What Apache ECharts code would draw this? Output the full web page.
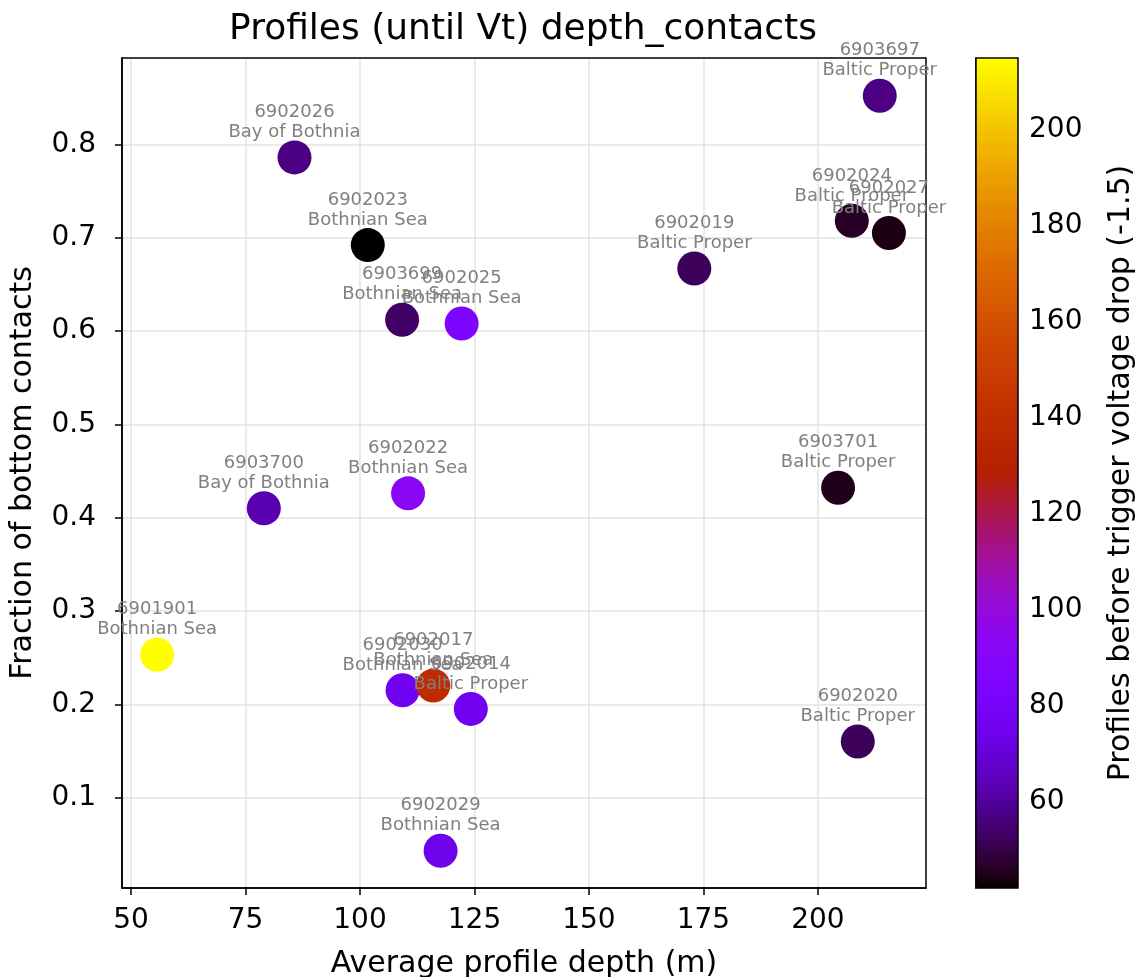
<!DOCTYPE html>
<html>
<head>
<meta charset="utf-8">
<script src="https://cdn.jsdelivr.net/npm/echarts@6/dist/echarts.min.js"></script>
<style>
  html, body { margin: 0; padding: 0; background: #fff; }
  #chart { width: 1136px; height: 977px; }
</style>
</head>
<body>
<div id="chart"></div>
<script>
// Float identifiers and their sea region
const floatIds = ['6901901', '6903700', '6902026', '6902023', '6903699', '6902025',
  '6902022', '6902030', '6902017', '6902014', '6902029', '6902019', '6903697',
  '6902024', '6902027', '6903701', '6902020'];
const regions = ['Bothnian Sea', 'Bay of Bothnia', 'Bay of Bothnia', 'Bothnian Sea',
  'Bothnian Sea', 'Bothnian Sea', 'Bothnian Sea', 'Bothnian Sea', 'Bothnian Sea',
  'Baltic Proper', 'Bothnian Sea', 'Baltic Proper', 'Baltic Proper', 'Baltic Proper',
  'Baltic Proper', 'Baltic Proper', 'Baltic Proper'];
// Average profile depth (m)
const avgDepth = [55.7, 79.0, 85.7, 101.7, 109.2, 122.2, 110.5, 109.3, 116.0, 124.2,
  117.6, 173.0, 213.5, 207.4, 215.5, 204.4, 208.7];
// Fraction of bottom contacts
const bottomFraction = [0.253, 0.410, 0.786, 0.692, 0.612, 0.608, 0.426, 0.215, 0.220,
  0.195, 0.043, 0.667, 0.852, 0.718, 0.705, 0.432, 0.160];
// Profiles before trigger voltage drop (-1.5)
const profilesBeforeDrop = [215, 63, 57, 42, 53, 84, 93, 76, 138, 76, 74, 52, 57, 46, 44, 45, 52];

const xTicks = [50, 75, 100, 125, 150, 175, 200];
const yTicks = [0.1, 0.2, 0.3, 0.4, 0.5, 0.6, 0.7, 0.8];
const cbTicks = [60, 80, 100, 120, 140, 160, 180, 200];
const cbMin = 42, cbMax = 215;

// gnuplot colour map: r = sqrt(t), g = t^3, b = sin(2*pi*t)
function gnuplotStops(n) {
  const out = [];
  for (let i = 0; i < n; i++) {
    const t = i / (n - 1);
    const r = Math.sqrt(t), g = t * t * t, b = Math.max(0, Math.sin(2 * Math.PI * t));
    const c = v => Math.round(Math.min(1, Math.max(0, v)) * 255);
    out.push('rgb(' + c(r) + ',' + c(g) + ',' + c(b) + ')');
  }
  return out;
}

const points = avgDepth.map((x, i) => [x, bottomFraction[i], profilesBeforeDrop[i], floatIds[i], regions[i]]);

const FONT = 'DejaVu Sans';
const chart = echarts.init(document.getElementById('chart'), null, { renderer: 'canvas' });

chart.setOption({
  backgroundColor: '#ffffff',
  animation: false,
  textStyle: { fontFamily: FONT },
  title: {
    text: 'Profiles (until Vt) depth_contacts',
    left: 518, textAlign: 'center', top: 7,
    textStyle: { fontFamily: FONT, fontSize: 36, fontWeight: 'normal', color: '#000' }
  },
  grid: [
    { left: 122, top: 58, width: 804, height: 830, outerBoundsMode: 'none', containLabel: false, show: true, borderColor: '#000', borderWidth: 1.5, backgroundColor: 'transparent', z: 3 },
    { left: 976, top: 58, width: 42, height: 830, outerBoundsMode: 'none', containLabel: false, show: true, borderColor: '#000', borderWidth: 1.5, backgroundColor: 'transparent', z: 5 }
  ],
  xAxis: [
    {
      type: 'value', gridIndex: 0, min: 48.03, max: 223.6,
      name: 'Average profile depth (m)', nameLocation: 'middle', nameGap: 61,
      nameTextStyle: { fontFamily: FONT, fontSize: 30, color: '#000' },
      axisLine: { show: true, onZero: false, lineStyle: { color: '#000', width: 1.5 } },
      axisTick: { show: true, inside: false, length: 7, customValues: xTicks, lineStyle: { color: '#000', width: 1.5 } },
      axisLabel: { customValues: xTicks, fontFamily: FONT, fontSize: 28, color: '#000', margin: 19, showMinLabel: true, showMaxLabel: true },
      splitLine: { show: true, lineStyle: { color: '#e3e3e3', width: 1.5 } }
    },
    { type: 'value', gridIndex: 1, show: false, min: 0, max: 1 }
  ],
  yAxis: [
    {
      type: 'value', gridIndex: 0, min: 0.0031, max: 0.8925,
      name: 'Fraction of bottom contacts', nameLocation: 'middle', nameGap: 84, nameRotate: 90,
      nameTextStyle: { fontFamily: FONT, fontSize: 30, color: '#000' },
      axisLine: { show: true, onZero: false, lineStyle: { color: '#000', width: 1.5 } },
      axisTick: { show: true, inside: false, length: 7, customValues: yTicks, lineStyle: { color: '#000', width: 1.5 } },
      axisLabel: { customValues: yTicks, fontFamily: FONT, fontSize: 28, color: '#000', margin: 26, formatter: v => v.toFixed(1) },
      splitLine: { show: true, lineStyle: { color: '#e3e3e3', width: 1.5 } }
    },
    {
      type: 'value', gridIndex: 1, position: 'right', min: cbMin, max: cbMax,
      name: 'Profiles before trigger voltage drop (-1.5)', nameLocation: 'middle', nameGap: 88, nameRotate: 90,
      nameTextStyle: { fontFamily: FONT, fontSize: 30, color: '#000' },
      axisLine: { show: true, lineStyle: { color: '#000', width: 1.5 } },
      axisTick: { show: true, inside: false, length: 7, customValues: cbTicks, lineStyle: { color: '#000', width: 1.5 } },
      axisLabel: { customValues: cbTicks, fontFamily: FONT, fontSize: 28, color: '#000', margin: 11 },
      splitLine: { show: false }
    }
  ],
  visualMap: {
    type: 'continuous', seriesIndex: 0, dimension: 2,
    min: cbMin, max: cbMax, show: true, calculable: false, hoverLink: false,
    left: 976, top: 58, itemWidth: 42, itemHeight: 830, padding: 0,
    text: null, showLabel: false,
    inRange: { color: gnuplotStops(96) }
  },
  series: [
    {
      type: 'scatter', xAxisIndex: 0, yAxisIndex: 0, data: points,
      symbolSize: 34, z: 4,
      itemStyle: { opacity: 1 },
      label: {
        show: true, position: 'top', distance: -2,
        formatter: p => p.data[3] + '\n' + p.data[4],
        fontFamily: FONT, fontSize: 18, lineHeight: 20, color: '#808080', align: 'center'
      },
      emphasis: { disabled: true }
    }
  ]
});
</script>
</body>
</html>
